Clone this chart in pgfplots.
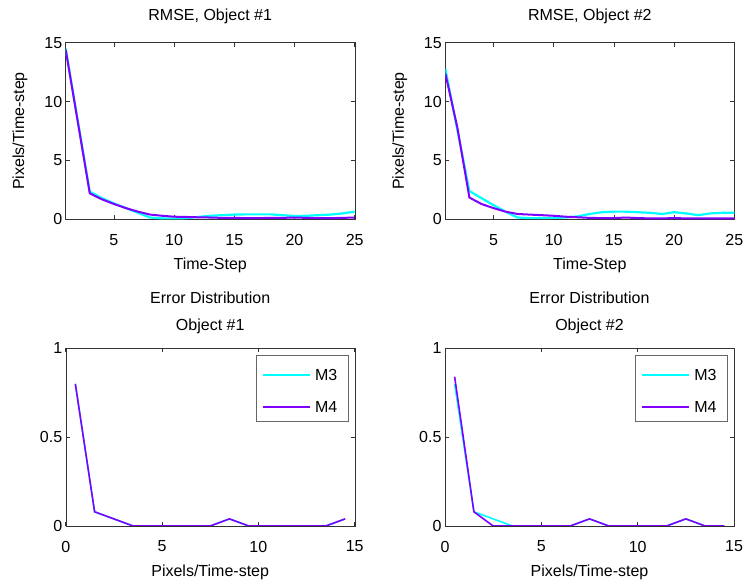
\documentclass[border=0pt]{standalone}
\usepackage{fontspec}
\setmainfont{Liberation Sans}
\usepackage{pgfplots}
\pgfplotsset{compat=1.18}

\definecolor{mthree}{RGB}{0,255,255}
\definecolor{mfour}{RGB}{127,0,255}

\tikzset{
  m3line/.style={draw=mthree, line width=#1},
  m4line/.style={draw=mfour, line width=#1},
}

\pgfplotsset{
  every axis title shift=0pt,
  base/.style={
    scale only axis,
    width=289pt,
    anchor=south west,
    font=\fontsize{16}{18}\selectfont,
    /pgf/number format/assume math mode=true,
    tick label style={font=\fontsize{16}{18}\selectfont},
    axis line style={black!80},
    tick style={black!80, line width=0.5pt},
    major tick length=4pt,
    tick align=inside,
    xticklabel style={anchor=center, yshift=-20.5pt},
    xlabel style={at={(axis description cs:0.5,0)}, anchor=center, yshift=-46.5pt},
    title style={align=center},
  },
  rmse/.style={
    base,
    height=176.6pt,
    xmin=1, xmax=25, ymin=0, ymax=15,
    xtick={5,10,15,20,25}, ytick={0,5,10,15},
    xlabel={Time-Step},
    ylabel={Pixels/Time-step},
    ylabel style={at={(axis description cs:-0.158,0.5)}, anchor=center},
    title style={at={(axis description cs:0.5,1)}, anchor=base, yshift=22pt},
  },
  dist/.style={
    base,
    height=177.7pt,
    xmin=0, xmax=15, ymin=0, ymax=1,
    xtick={0,5,10,15}, ytick={0,0.5,1},
    xlabel={Pixels/Time-step},
    title style={at={(axis description cs:0.5,1)}, anchor=south, yshift=11pt,
                 font=\fontsize{16}{27}\selectfont},
  },
}

% legend frame, keys and names for the error-distribution panels
\newcommand{\distlegend}{%
  \draw[black!60, line width=0.6pt, fill=white]
    (rel axis cs:0.658,0.587) rectangle (rel axis cs:0.978,0.962);
  \draw[m3line=1.6pt] (rel axis cs:0.683,0.85) -- (rel axis cs:0.846,0.85);
  \draw[m4line=1.6pt] (rel axis cs:0.683,0.671) -- (rel axis cs:0.846,0.671);
  \node[anchor=west, inner sep=0pt] at (rel axis cs:0.862,0.85) {M3};
  \node[anchor=west, inner sep=0pt] at (rel axis cs:0.862,0.671) {M4};
}

\begin{document}
\begin{tikzpicture}
\useasboundingbox (0pt,0pt) rectangle (747pt,586pt);

% RMSE per time-step, object 1
\begin{axis}[rmse, at={(65.7pt,366.7pt)}, title={RMSE, Object \#1}]
\addplot[m3line=2.2pt] coordinates {
 (1,14.5) (2,8.4) (3,2.35) (4,1.8) (5,1.35) (6,0.95) (7,0.55) (8,0.15)
 (9,0.08) (10,0.08) (11,0.1) (12,0.2) (13,0.3) (14,0.35) (15,0.4)
 (16,0.42) (17,0.42) (18,0.42) (19,0.35) (20,0.28) (21,0.3) (22,0.35)
 (23,0.4) (24,0.5) (25,0.65)};
\addplot[m4line=2pt] coordinates {
 (1,14.4) (2,8.3) (3,2.2) (4,1.7) (5,1.3) (6,0.95) (7,0.65) (8,0.4)
 (9,0.3) (10,0.22) (11,0.2) (12,0.17) (13,0.15) (14,0.12) (15,0.12)
 (16,0.1) (17,0.1) (18,0.12) (19,0.12) (20,0.15) (21,0.12) (22,0.1)
 (23,0.1) (24,0.12) (25,0.15)};
\end{axis}

% RMSE per time-step, object 2
\begin{axis}[rmse, at={(445.3pt,366.7pt)}, title={RMSE, Object \#2}]
\addplot[m3line=2.2pt] coordinates {
 (1,12.8) (2,7.6) (3,2.4) (4,1.8) (5,1.2) (6,0.65) (7,0.15) (8,0.1)
 (9,0.1) (10,0.12) (11,0.15) (12,0.25) (13,0.45) (14,0.6) (15,0.65)
 (16,0.65) (17,0.6) (18,0.55) (19,0.45) (20,0.6) (21,0.5) (22,0.35)
 (23,0.5) (24,0.55) (25,0.55)};
\addplot[m4line=2pt] coordinates {
 (1,12.4) (2,7.8) (3,1.85) (4,1.3) (5,0.95) (6,0.65) (7,0.45) (8,0.4)
 (9,0.35) (10,0.3) (11,0.22) (12,0.17) (13,0.12) (14,0.1) (15,0.1)
 (16,0.15) (17,0.1) (18,0.08) (19,0.08) (20,0.1) (21,0.08) (22,0.08)
 (23,0.08) (24,0.08) (25,0.08)};
\end{axis}

% Error distribution, object 1
\begin{axis}[dist, at={(65.7pt,60pt)}, title={Error Distribution\\Object \#1}]
\addplot[m3line=1.6pt] coordinates {
 (0.5,0.80) (1.5,0.08) (2.5,0.04) (3.5,0) (4.5,0) (5.5,0) (6.5,0) (7.5,0)
 (8.5,0.04) (9.5,0) (10.5,0) (11.5,0) (12.5,0) (13.5,0) (14.5,0.04)};
\addplot[m4line=1.6pt] coordinates {
 (0.5,0.80) (1.5,0.08) (2.5,0.04) (3.5,0) (4.5,0) (5.5,0) (6.5,0) (7.5,0)
 (8.5,0.04) (9.5,0) (10.5,0) (11.5,0) (12.5,0) (13.5,0) (14.5,0.04)};
\distlegend
\end{axis}

% Error distribution, object 2
\begin{axis}[dist, at={(445pt,60pt)}, title={Error Distribution\\Object \#2}]
\addplot[m3line=1.6pt] coordinates {
 (0.5,0.80) (1.5,0.08) (2.5,0.04) (3.5,0) (4.5,0) (5.5,0) (6.5,0) (7.5,0.04)
 (8.5,0) (9.5,0) (10.5,0) (11.5,0) (12.5,0.04) (13.5,0) (14.5,0)};
\addplot[m4line=1.6pt] coordinates {
 (0.5,0.84) (1.5,0.08) (2.5,0) (3.5,0) (4.5,0) (5.5,0) (6.5,0) (7.5,0.04)
 (8.5,0) (9.5,0) (10.5,0) (11.5,0) (12.5,0.04) (13.5,0) (14.5,0)};
\distlegend
\end{axis}
\end{tikzpicture}
\end{document}
